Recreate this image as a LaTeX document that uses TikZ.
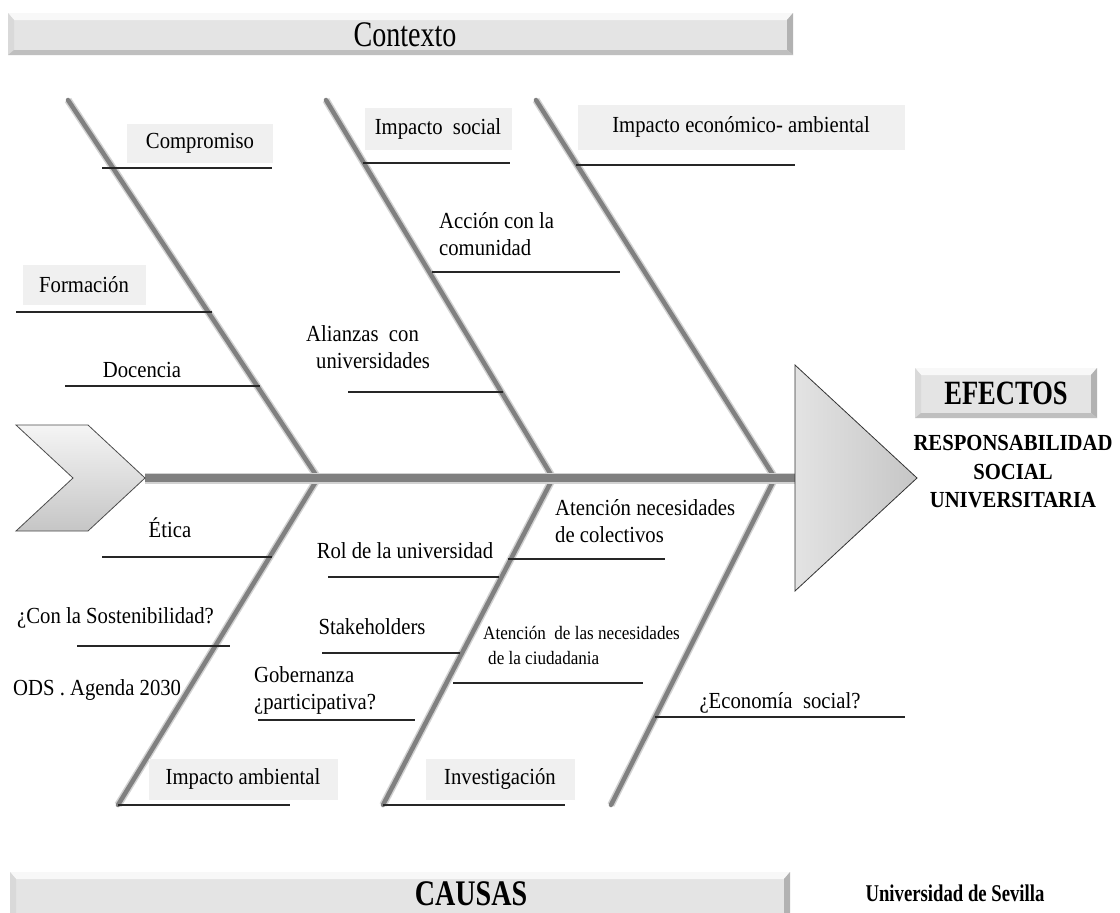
\documentclass[tikz,border=0pt]{standalone}
\usepackage{fontspec}
\setmainfont{Liberation Serif}[FakeStretch=0.9]
\newfontfamily\titlefont{Liberation Serif}[FakeStretch=0.78]
\usetikzlibrary{calc}

\definecolor{bonegray}{RGB}{128,128,128}
\definecolor{boneglow}{RGB}{210,210,210}
\definecolor{labelbox}{RGB}{240,240,240}
\definecolor{barfill}{RGB}{228,228,228}
\definecolor{bartop}{RGB}{248,248,248}
\definecolor{headfill}{RGB}{198,198,198}

% bevelled bar: #1,#2 = top-left corner, #3,#4 = bottom-right corner
\newcommand{\bevelbar}[4]{%
  \fill[barfill] (#1,#2) rectangle (#3,#4);
  \fill[bartop] (#1,#2) -- (#3,#2) -- (#3-6,#2+7) -- (#1+6,#2+7) -- cycle;
  \fill[gray!30] (#1,#2) -- (#1+6,#2+7) -- (#1+6,#4-5) -- (#1,#4) -- cycle;
  \fill[gray!60] (#3,#2) -- (#3-6,#2+7) -- (#3-6,#4-5) -- (#3,#4) -- cycle;
  \fill[gray!50] (#1,#4) -- (#1+6,#4-5) -- (#3-6,#4-5) -- (#3,#4) -- cycle;
}
\newcommand{\lblsize}{\fontsize{23}{27}\selectfont}

\tikzset{
  bone/.style={draw=bonegray, line width=4.5pt, line cap=round,
    preaction={draw=boneglow, line width=7.5pt}},
  spine/.style={draw=bonegray, line width=8pt,
    preaction={draw=boneglow, line width=11pt}},
  uline/.style={draw=black!85, line width=1.3pt},
  lbl/.style={inner sep=0pt, font=\lblsize, align=left, text=black},
  smalllbl/.style={inner sep=0pt, font=\fontsize{19}{25}\selectfont, align=left},
  tagbox/.style={fill=labelbox, inner sep=0pt, font=\lblsize},
  bigtitle/.style={inner sep=0pt, font=\titlefont\fontsize{36}{40}\selectfont},
  boldtitle/.style={inner sep=0pt, font=\titlefont\fontsize{36}{40}\selectfont\bfseries},
}

\begin{document}
\begin{tikzpicture}[x=1pt,y=-1pt]
\useasboundingbox (0,0) rectangle (1120,913);
\fill[white] (0,0) rectangle (1120,913);

% title bars
\bevelbar{8}{13}{793}{55}
\node[bigtitle] (contexto) at (405,35) {Contexto};
\bevelbar{10}{872}{790}{920}
\node[boldtitle] (causas) at (471,894) {CAUSAS};
\node[inner sep=0pt, font=\titlefont\fontsize{24}{28}\selectfont\bfseries] (sevilla) at (955,893) {Universidad de Sevilla};

% spine ends
\coordinate (tail) at (145,478);
\coordinate (head) at (795,478);

% junctions on the spine and bone ends
\coordinate (j1) at (318,478);
\coordinate (j2) at (553,478);
\coordinate (j3) at (775,478);
\coordinate (t1) at (68,100);
\coordinate (t2) at (326,100);
\coordinate (t3) at (536,100);
\coordinate (b1) at (118,805);
\coordinate (b2) at (383,805);
\coordinate (b3) at (611,805);

% bones
\draw[bone] (j1) -- (t1);
\draw[bone] (j2) -- (t2);
\draw[bone] (j3) -- (t3);
\draw[bone] (j1) -- (b1);
\draw[bone] (j2) -- (b2);
\draw[bone] (j3) -- (b3);
\draw[spine] (tail) -- (head);

% tail chevron
\draw[draw=black!70, line width=0.8pt, top color=gray!8, bottom color=gray!45]
  (16,425) -- (88,425) -- (tail) -- (88,531) -- (16,531) -- (73,478) -- cycle;

% head triangle
\draw[draw=black!80, line width=0.8pt, left color=gray!22, right color=headfill]
  (795,365) -- (917,478) -- (795,591) -- cycle;

% effect box and result
\bevelbar{915}{368}{1097}{418}
\node[inner sep=0pt, font=\titlefont\fontsize{34}{38}\selectfont\bfseries] (efectos) at (1006,393) {EFECTOS};
\node[inner sep=0pt, align=center, font=\fontsize{23}{28.5}\selectfont\bfseries] (rsu)
  at (1013,472) {RESPONSABILIDAD\\SOCIAL\\UNIVERSITARIA};

% upper labels
\node[tagbox, minimum width=146, minimum height=39] (compromiso) at (200,143) {Compromiso};
\node[tagbox, minimum width=147, minimum height=42] (isocial) at (438,129) {Impacto\ \ social};
\node[tagbox, minimum width=327, minimum height=45] (ieco) at (741,127) {Impacto económico- ambiental};
\node[lbl, anchor=west] (accion) at (439,234) {Acción con la\\comunidad};
\node[tagbox, minimum width=123, minimum height=40] (formacion) at (84,285) {Formación};
\node[lbl] (docencia) at (142,370) {Docencia};
\node[lbl, anchor=west] (alianzas) at (306,347) {Alianzas\ \ con\\\hspace*{10pt}universidades};

% lower labels
\node[lbl] (etica) at (170,528) {Ética};
\node[lbl] (rol) at (405,551) {Rol de la universidad};
\node[lbl, anchor=west] (colectivos) at (555,521) {Atención necesidades\\de colectivos};
\node[lbl, anchor=west] (sosten) at (17,618) {¿Con la Sostenibilidad?};
\node[lbl] (stake) at (372,627) {Stakeholders};
\node[smalllbl, anchor=west] (ciudadania) at (483,645) {Atención\ \ de las necesidades\\\hspace*{5pt}de la ciudadania};
\node[lbl, anchor=west] (ods) at (13,690) {ODS . Agenda 2030};
\node[lbl, anchor=west] (gober) at (254,690) {Gobernanza\\¿participativa?};
\node[lbl] (economia) at (780,703) {¿Economía\ \ social?};
\node[tagbox, minimum width=189, minimum height=41] (iamb) at (243,779) {Impacto ambiental};
\node[tagbox, minimum width=149, minimum height=41] (invest) at (500,779) {Investigación};

% underlines (left end, right end)
\coordinate (u1a) at (102,168); \coordinate (u1b) at (272,168);
\coordinate (u2a) at (363,163); \coordinate (u2b) at (510,163);
\coordinate (u3a) at (576,165); \coordinate (u3b) at (795,165);
\coordinate (u4a) at (432,272); \coordinate (u4b) at (620,272);
\coordinate (u5a) at (16,312);  \coordinate (u5b) at (212,312);
\coordinate (u6a) at (65,386);  \coordinate (u6b) at (260,386);
\coordinate (u7a) at (348,392); \coordinate (u7b) at (503,392);
\coordinate (u8a) at (102,557); \coordinate (u8b) at (272,557);
\coordinate (u9a) at (328,577); \coordinate (u9b) at (499,577);
\coordinate (u10a) at (508,559); \coordinate (u10b) at (665,559);
\coordinate (u11a) at (77,646); \coordinate (u11b) at (230,646);
\coordinate (u12a) at (322,653); \coordinate (u12b) at (460,653);
\coordinate (u13a) at (453,683); \coordinate (u13b) at (643,683);
\coordinate (u14a) at (258,720); \coordinate (u14b) at (415,720);
\coordinate (u15a) at (655,717); \coordinate (u15b) at (905,717);
\coordinate (u16a) at (b1); \coordinate (u16b) at (290,805);
\coordinate (u17a) at (b2); \coordinate (u17b) at (565,805);

\foreach \i in {1,...,17} {\draw[uline] (u\i a) -- (u\i b);}
\end{tikzpicture}
\end{document}
